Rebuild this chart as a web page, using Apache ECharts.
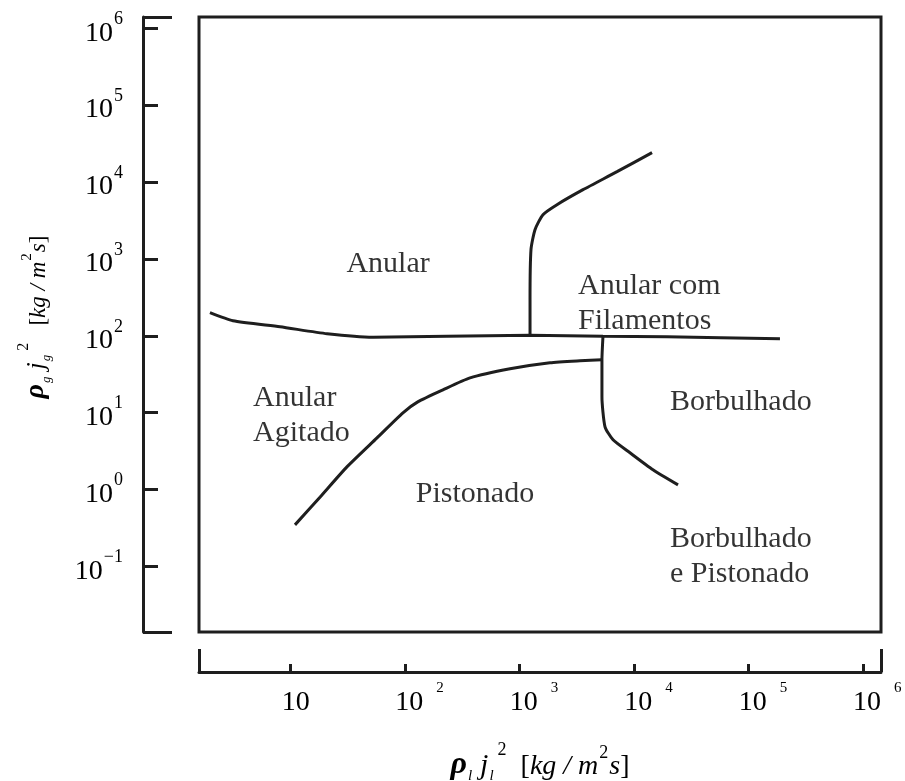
<!DOCTYPE html>
<html>
<head>
<meta charset="utf-8">
<script src="https://cdn.jsdelivr.net/npm/echarts@6/dist/echarts.min.js"></script>
<style>
html,body{margin:0;padding:0;background:#fff;}
#c{width:905px;height:781px;}
</style>
</head>
<body>
<div id="c"></div>
<script>
// ---- axis ranges (data units) ----
const xMin = 1.58, xMax = 1.442e6;
const yMin = 0.01403, yMax = 1.40e6;

// ---- tick values and labels ----
const xTickValues = [10, 100, 1000, 1e4, 1e5, 1e6];
const xTickExps   = ['', '2', '3', '4', '5', '6'];
const yTickValues = [0.1, 1, 10, 100, 1000, 1e4, 1e5, 1e6];
const yTickExps   = ['\u22121', '0', '1', '2', '3', '4', '5', '6'];

// ---- boundary curves ----
// near-horizontal transition (Anular / lower regimes)
const lineAX = [1.97, 3.13, 8.07, 20.8, 52.5, 232, 1235, 5360, 19410, 188800];
const lineAY = [199.6, 156.7, 130.9, 106.2, 95.7, 98.6, 101.6, 98.6, 97, 91.4];
// Anular / Anular com Filamentos
const lineBX = [1235, 1235, 1259, 1365, 1603, 2124, 3589, 7112, 14390];
const lineBY = [101.6, 294, 1318, 2399, 3758, 5070, 7945, 13620, 24110];
// Pistonado / Borbulhado
const lineCX = [5360, 5250, 5250, 5585, 6563, 9226, 14660, 24270];
const lineCY = [98.6, 48.7, 16.1, 6.55, 4.44, 3.01, 1.81, 1.15];
// Anular Agitado / Pistonado
const lineDX = [10.9, 18.1, 31.0, 56.8, 95.7, 129, 214, 369, 826, 1845, 3373, 5250];
const lineDY = [0.347, 0.80, 1.97, 4.70, 9.95, 13.8, 19.8, 28.3, 37.2, 44.6, 47.3, 48.7];

// ---- region names and their anchor (data units) ----
const regionNames = ['Anular', 'Anular com\nFilamentos', 'Anular\nAgitado', 'Borbulhado', 'Pistonado', 'Borbulhado\ne Pistonado'];
const regionX = [71, 3243, 4.69, 20650, 408, 20650];
const regionY = [919, 277, 9.66, 14.7, 0.931, 0.141];

// ---- build ----
const FONT = 'Liberation Serif';
const INK = '#1e1e1e';
const TXT = '#000';
function pairs(xs, ys) { return xs.map((x, i) => [x, ys[i]]); }
function nearest(arr, v) {
  let best = 0, bd = Infinity;
  arr.forEach((t, i) => { const d = Math.abs(Math.log10(t) - Math.log10(v)); if (d < bd) { bd = d; best = i; } });
  return best;
}
const centered = new Set(['Anular', 'Pistonado']);

const curveStyle = { color: INK, width: 3 };
const curves = [[lineAX, lineAY], [lineBX, lineBY], [lineCX, lineCY], [lineDX, lineDY]].map(c => ({
  type: 'line', xAxisIndex: 0, yAxisIndex: 0,
  data: pairs(c[0], c[1]), symbol: 'none', smooth: 0.2,
  lineStyle: curveStyle, silent: true, animation: false
}));

const regionSeries = {
  type: 'scatter', xAxisIndex: 0, yAxisIndex: 0, symbolSize: 0, silent: true, animation: false,
  data: regionNames.map((n, i) => ({
    name: n, value: [regionX[i], regionY[i]],
    label: { align: centered.has(n) ? 'center' : 'left' }
  })),
  label: {
    show: true, position: 'inside', formatter: p => p.name, offset: [0, 2],
    fontFamily: FONT, fontSize: 30, lineHeight: 35, color: TXT, verticalAlign: 'middle'
  }
};

const lineSt = { color: INK, width: 3 };

const xName = '{r|\u03c1}{l|l}{j|j}{l|l}{s|2}{bk|  [}{k|kg / m}{s2|2}{k|s}{bk|]}';
const yName = '{r|\u03c1}{l|g}{j|j}{l|g}{s|2}{bk|   [}{k|kg / m}{s2|2}{k|s}{bk|]}';

const option = {
  backgroundColor: '#fff',
  animation: false,
  grid: {
    left: 199, right: 24, top: 17, bottom: 149,
    show: true, borderColor: INK, borderWidth: 3, backgroundColor: 'transparent',
    containLabel: false, outerBoundsMode: 'none'
  },
  xAxis: [
    {
      type: 'log', logBase: 10, min: xMin, max: xMax, position: 'bottom', offset: 40,
      axisLine: { show: true, onZero: false, lineStyle: lineSt },
      axisTick: { show: true, inside: true, length: 8, lineStyle: lineSt, customValues: xTickValues },
      axisLabel: {
        show: true, customValues: xTickValues, margin: 17, color: TXT,
        formatter: v => { const e = xTickExps[nearest(xTickValues, v)]; return e ? '{b1|10}{s|' + e + '}' : '{b0|10}'; },
        rich: {
          b0: { fontFamily: FONT, fontSize: 28, lineHeight: 28, color: TXT, padding: [0, 0, 0, 10], verticalAlign: 'bottom' },
          b1: { fontFamily: FONT, fontSize: 28, lineHeight: 28, color: TXT, padding: [0, 0, 0, 29], verticalAlign: 'bottom' },
          s: { fontFamily: FONT, fontSize: 15, lineHeight: 15, color: TXT, padding: [0, 0, 21, 13], verticalAlign: 'bottom' }
        }
      },
      splitLine: { show: false }, minorTick: { show: false },
      name: xName, nameLocation: 'middle', nameGap: 82,
      nameTextStyle: {
        color: TXT,
        rich: {
          r: { fontFamily: FONT, fontStyle: 'italic', fontWeight: 'bold', fontSize: 32, lineHeight: 30, color: TXT, padding: [0, 0, 3, 0], verticalAlign: 'bottom' },
          l: { fontFamily: FONT, fontStyle: 'italic', fontSize: 15, lineHeight: 15, color: TXT, padding: [0, 2, 0, 1], verticalAlign: 'bottom' },
          j: { fontFamily: FONT, fontStyle: 'italic', fontSize: 30, lineHeight: 30, color: TXT, padding: [0, 0, 3, 6], verticalAlign: 'bottom' },
          s: { fontFamily: FONT, fontSize: 18, lineHeight: 18, color: TXT, padding: [0, 0, 25, 2], verticalAlign: 'bottom' },
          k: { fontFamily: FONT, fontStyle: 'italic', fontSize: 28, lineHeight: 30, color: TXT, padding: [0, 0, 3, 0], verticalAlign: 'bottom' },
          bk: { fontFamily: FONT, fontSize: 28, lineHeight: 30, color: TXT, padding: [0, 0, 3, 0], verticalAlign: 'bottom' },
          s2: { fontFamily: FONT, fontSize: 18, lineHeight: 18, color: TXT, padding: [0, 1, 22, 1], verticalAlign: 'bottom' }
        }
      }
    },
    {
      type: 'log', logBase: 10, min: xMin, max: xMax, position: 'bottom', offset: 40,
      axisLine: { show: false },
      axisTick: { show: true, inside: true, length: 23, lineStyle: lineSt, customValues: [xMin * 1.0005, xMax / 1.0005] },
      axisLabel: { show: false }, splitLine: { show: false }
    }
  ],
  yAxis: [
    {
      type: 'log', logBase: 10, min: yMin, max: yMax, position: 'left', offset: 56,
      axisLine: { show: true, onZero: false, lineStyle: lineSt },
      axisTick: { show: true, inside: true, length: 15, lineStyle: lineSt, customValues: yTickValues },
      axisLabel: {
        show: true, customValues: yTickValues, margin: 20, color: TXT, align: 'right',
        padding: [10, 0, 0, 0],
        formatter: v => '{b|10}{s|' + yTickExps[nearest(yTickValues, v)] + '}',
        rich: {
          b: { fontFamily: FONT, fontSize: 28, lineHeight: 28, color: TXT, verticalAlign: 'bottom' },
          s: { fontFamily: FONT, fontSize: 18, lineHeight: 18, color: TXT, padding: [0, 0, 19, 1], verticalAlign: 'bottom' }
        }
      },
      splitLine: { show: false }, minorTick: { show: false },
      name: yName, nameLocation: 'middle', nameRotate: 90, nameGap: 90,
      nameTextStyle: {
        color: TXT,
        rich: {
          r: { fontFamily: FONT, fontStyle: 'italic', fontWeight: 'bold', fontSize: 28, lineHeight: 26, color: TXT, padding: [0, 0, 3, 15], verticalAlign: 'bottom' },
          l: { fontFamily: FONT, fontStyle: 'italic', fontSize: 13, lineHeight: 13, color: TXT, padding: [0, 2, 0, 1], verticalAlign: 'bottom' },
          j: { fontFamily: FONT, fontStyle: 'italic', fontSize: 26, lineHeight: 26, color: TXT, padding: [0, 0, 3, 5], verticalAlign: 'bottom' },
          s: { fontFamily: FONT, fontSize: 16, lineHeight: 16, color: TXT, padding: [0, 0, 21, 2], verticalAlign: 'bottom' },
          k: { fontFamily: FONT, fontStyle: 'italic', fontSize: 23, lineHeight: 26, color: TXT, padding: [0, 0, 3, 0], verticalAlign: 'bottom' },
          bk: { fontFamily: FONT, fontSize: 23, lineHeight: 26, color: TXT, padding: [0, 0, 3, 0], verticalAlign: 'bottom' },
          s2: { fontFamily: FONT, fontSize: 15, lineHeight: 15, color: TXT, padding: [0, 1, 18, 1], verticalAlign: 'bottom' }
        }
      }
    },
    {
      type: 'log', logBase: 10, min: yMin, max: yMax, position: 'left', offset: 56,
      axisLine: { show: false },
      axisTick: { show: true, inside: true, length: 29, lineStyle: lineSt, customValues: [yMin * 1.0005, yMax / 1.0005] },
      axisLabel: { show: false }, splitLine: { show: false }
    }
  ],
  series: curves.concat([regionSeries])
};

const chart = echarts.init(document.getElementById('c'), null, { renderer: 'canvas' });
chart.setOption(option);
</script>
</body>
</html>
